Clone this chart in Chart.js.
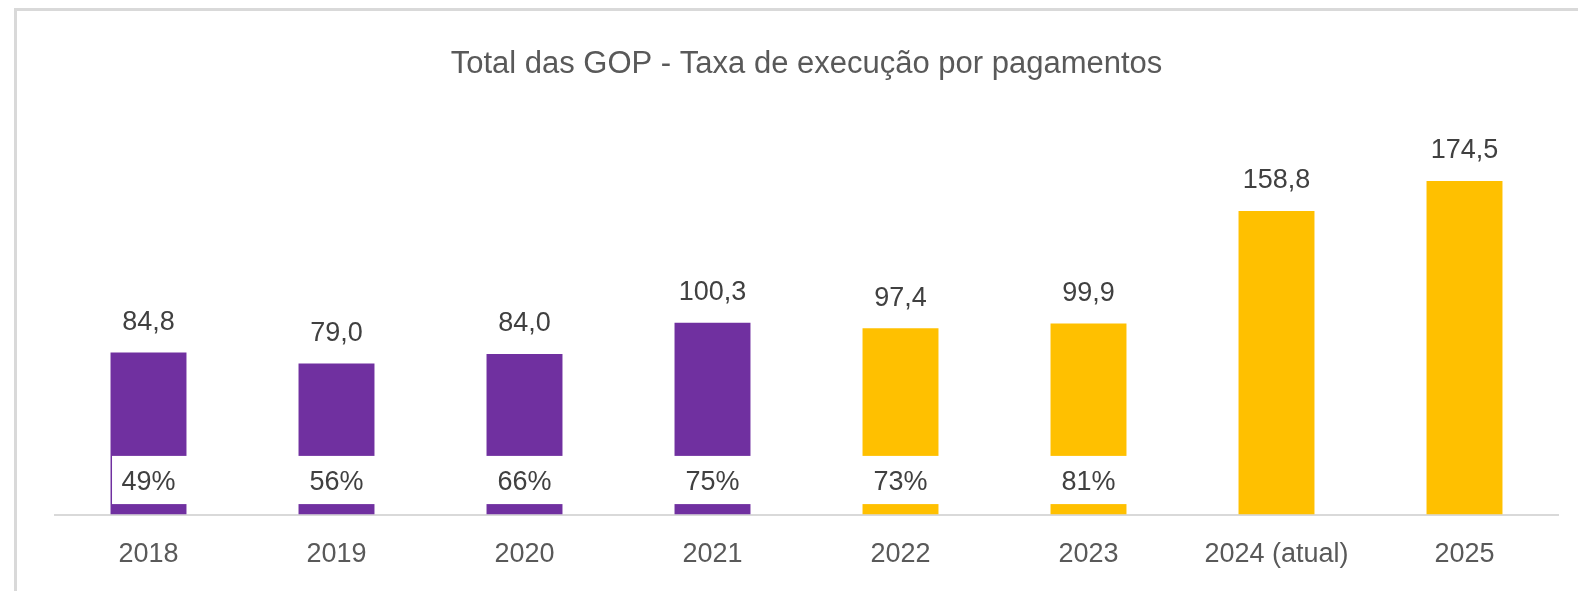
<!DOCTYPE html>
<html>
<head>
<meta charset="utf-8">
<script src="https://cdn.jsdelivr.net/npm/chart.js@4/dist/chart.umd.min.js"></script>
<style>
    html, body { margin: 0; padding: 0; overflow: hidden; background: #fff; }
    #frame {
        position: absolute;
        left: 14px;
        top: 8px;
        width: 1600px;
        height: 640px;
        border: 3px solid #d9d9d9;
    }
    #wrap { position: absolute; left: 0; top: 0; width: 1584px; height: 584px; }
</style>
</head>
<body>
<div id="frame">
    <div id="wrap"><canvas id="gopChart"></canvas></div>
</div>
<script>
const categories = ['2018', '2019', '2020', '2021', '2022', '2023', '2024 (atual)', '2025'];
const totals = [84.8, 79.0, 84.0, 100.3, 97.4, 99.9, 158.8, 174.5];
const execRates = [49, 56, 66, 75, 73, 81, null, null];
const barColors = ['#7030a0', '#7030a0', '#7030a0', '#7030a0', '#ffc000', '#ffc000', '#ffc000', '#ffc000'];

const labelFont = '27px "Liberation Sans", Arial, sans-serif';

// valores por cima das barras + caixa branca com a taxa de execução
const labelsPlugin = {
    id: 'gopLabels',
    afterDatasetsDraw(chart) {
        const ctx = chart.ctx;
        const meta = chart.getDatasetMeta(0);
        const y = chart.scales.y;
        ctx.save();
        ctx.font = labelFont;
        ctx.textAlign = 'center';
        ctx.textBaseline = 'middle';
        meta.data.forEach((bar, i) => {
            ctx.fillStyle = '#404040';
            ctx.fillText(totals[i].toFixed(1).replace('.', ','), bar.x, bar.y - 30);

            if (execRates[i] != null) {
                const top = y.getPixelForValue(30.7);
                const bottom = y.getPixelForValue(5.5);
                const left = bar.x - bar.width / 2 + (i === 0 ? 1.5 : -1);
                const right = bar.x + bar.width / 2 + 1;
                ctx.fillStyle = '#ffffff';
                ctx.fillRect(left, top, right - left, bottom - top);
                ctx.fillStyle = '#404040';
                ctx.fillText(execRates[i] + '%', bar.x, (top + bottom) / 2 + 3);
            }
        });
        ctx.restore();
    }
};

const ctx = document.getElementById('gopChart').getContext('2d');
const gopChart = new Chart(ctx, {
    type: 'bar',
    data: {
        labels: categories,
        datasets: [{
            label: 'Total das GOP',
            data: totals,
            backgroundColor: barColors,
            borderWidth: 0,
            categoryPercentage: 1,
            barPercentage: 0.404
        }]
    },
    options: {
        responsive: true,
        maintainAspectRatio: false,
        animation: false,
        layout: {
            padding: { left: 37.5, right: 42.5, top: 0, bottom: 0 }
        },
        plugins: {
            legend: { display: false },
            tooltip: { enabled: false },
            title: {
                display: true,
                text: 'Total das GOP - Taxa de execução por pagamentos',
                color: '#595959',
                font: { family: '"Liberation Sans", Arial, sans-serif', size: 31, weight: 'normal' },
                padding: { top: 35, bottom: 49 }
            }
        },
        scales: {
            x: {
                grid: { display: false, drawTicks: false },
                border: { display: true, color: '#d9d9d9', width: 2 },
                ticks: {
                    color: '#595959',
                    padding: 24,
                    font: { family: '"Liberation Sans", Arial, sans-serif', size: 27 }
                }
            },
            y: {
                display: false,
                min: 0,
                max: 200
            }
        }
    },
    plugins: [labelsPlugin]
});
</script>
</body>
</html>
